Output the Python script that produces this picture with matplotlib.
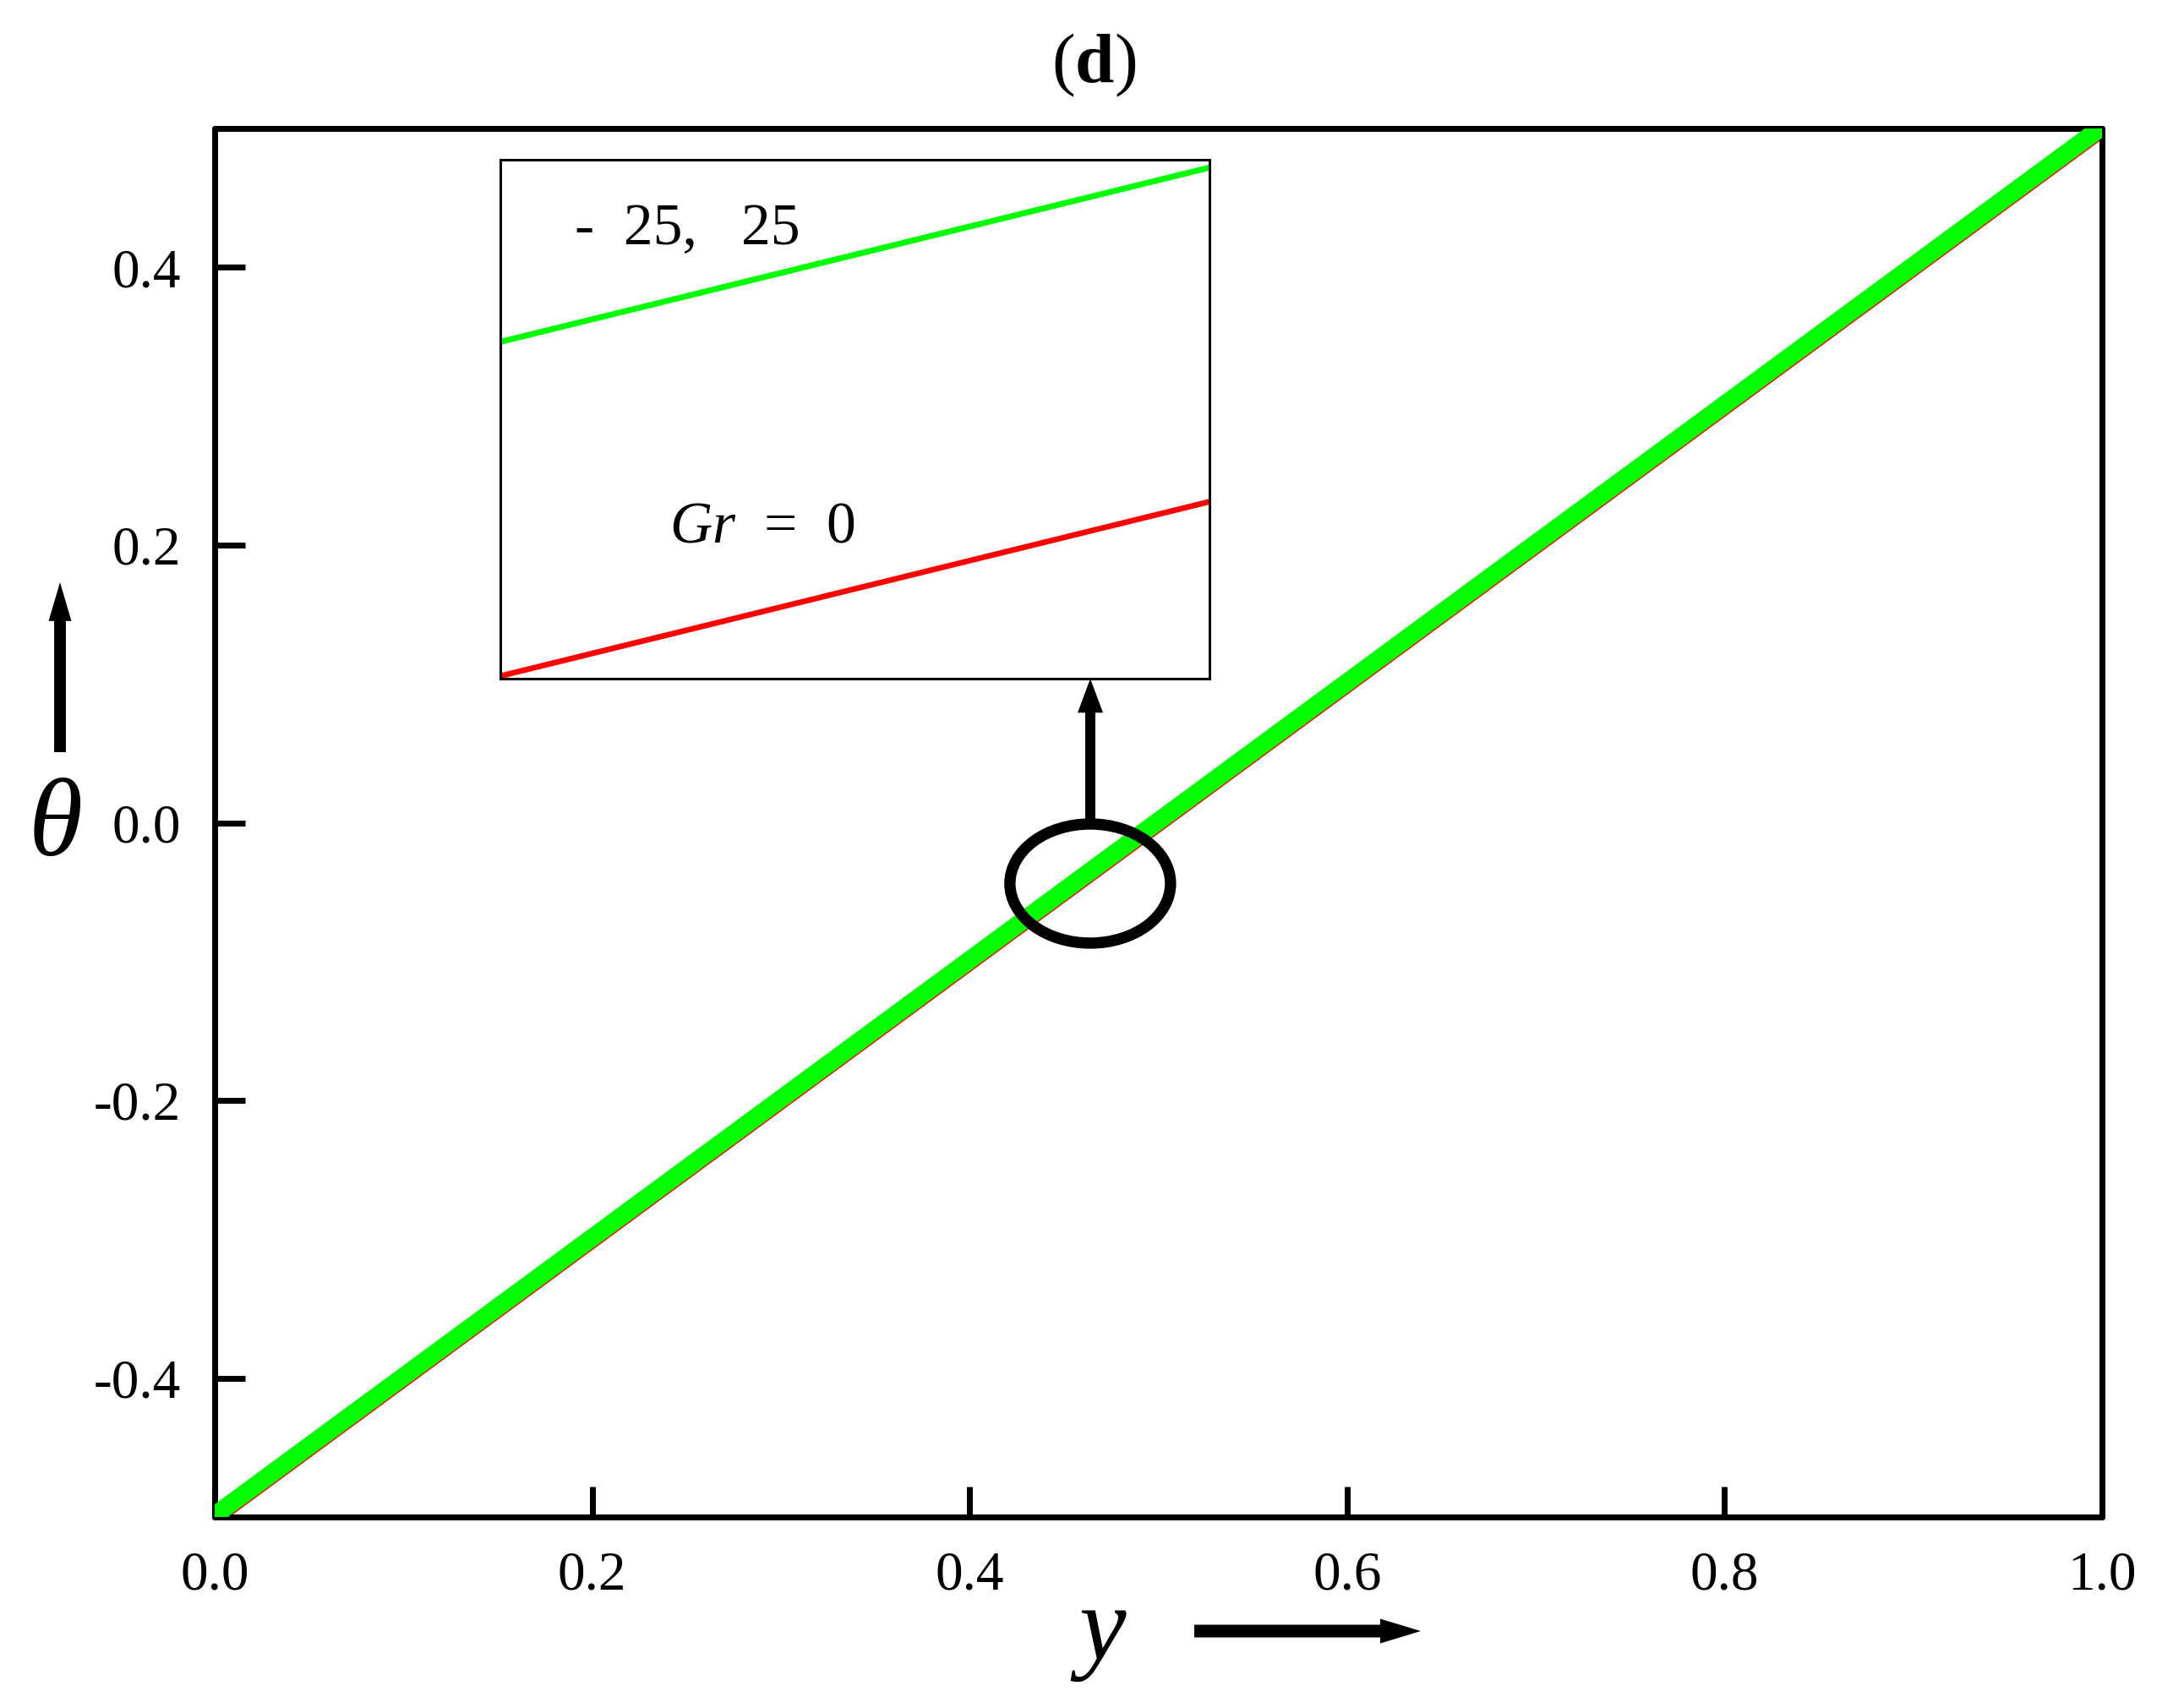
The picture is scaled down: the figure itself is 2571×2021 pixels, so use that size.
import matplotlib
matplotlib.use('Agg')
import matplotlib.pyplot as plt
from matplotlib.patches import Ellipse

plt.rcParams['font.family'] = ['Liberation Serif', 'DejaVu Serif']
plt.rcParams['mathtext.fontset'] = 'custom'
plt.rcParams['mathtext.rm'] = 'Liberation Serif'
plt.rcParams['mathtext.it'] = 'Liberation Serif:italic'
plt.rcParams['mathtext.bf'] = 'Liberation Serif:bold'

# ---- data ----
y_vals = [0.0, 0.1, 0.2, 0.3, 0.4, 0.5, 0.6, 0.7, 0.8, 0.9, 1.0]
theta_gr0 = [-0.5, -0.4, -0.3, -0.2, -0.1, 0.0, 0.1, 0.2, 0.3, 0.4, 0.5]
theta_grm25 = [-0.49885, -0.39885, -0.29885, -0.19885, -0.09885, 0.00115,
               0.10115, 0.20115, 0.30115, 0.40115, 0.50115]
theta_gr25 = [-0.49885, -0.39885, -0.29885, -0.19885, -0.09885, 0.00115,
              0.10115, 0.20115, 0.30115, 0.40115, 0.50115]
x_ticks = [0.0, 0.2, 0.4, 0.6, 0.8, 1.0]
x_ticklabels = ['0.0', '0.2', '0.4', '0.6', '0.8', '1.0']
y_ticks = [-0.4, -0.2, 0.0, 0.2, 0.4]
y_ticklabels = ['-0.4', '-0.2', '0.0', '0.2', '0.4']
zoom_center = (0.4639, -0.0438)

W, H = 2571, 2021
fig = plt.figure(figsize=(W / 100, H / 100), dpi=100)


def fx(px):
    return px / W


def fy(py):
    return 1 - py / H


ax = fig.add_axes([fx(254), fy(1795), (2487 - 254) / W, (1795 - 152) / H])
ax.plot(y_vals, theta_gr0, color='#FF0000', lw=15, solid_capstyle='round', zorder=2)
ax.plot(y_vals, theta_grm25, color='#00FF00', lw=15, solid_capstyle='round', zorder=3)
ax.plot(y_vals, theta_gr25, color='#00FF00', lw=15, solid_capstyle='round', zorder=3)
ax.set_xlim(0, 1)
ax.set_ylim(-0.5, 0.5)
ax.set_xticks(x_ticks)
ax.set_xticklabels(x_ticklabels)
ax.set_yticks(y_ticks)
ax.set_yticklabels(y_ticklabels)
ax.tick_params(direction='in', length=26, width=5, labelsize=47, pad=29)
for s in ax.spines.values():
    s.set_linewidth(5)
    s.set_capstyle('round')

# zoom ellipse
ax.add_patch(Ellipse(zoom_center, 0.0851, 0.0858, fill=False, lw=9.6,
                     edgecolor='k', zorder=5))

# inset
axins = fig.add_axes([fx(592), fy(803), (1431 - 592) / W, (803 - 189) / H])
axins.plot(y_vals, theta_gr0, color='#FF0000', lw=4.8)
axins.plot(y_vals, theta_grm25, color='#00FF00', lw=4.8)
axins.plot(y_vals, theta_gr25, color='#00FF00', lw=4.8)
axins.set_xlim(0.463, 0.4636)
axins.set_ylim(-0.037009, -0.035223)
axins.set_xticks([])
axins.set_yticks([])
for s in axins.spines.values():
    s.set_linewidth(2.2)
axins.text(0.105, 0.865, '-  25,   25', transform=axins.transAxes, fontsize=50,
           ha='left', va='center')
axins.text(0.238, 0.29, '$Gr$  =  0', transform=axins.transAxes, fontsize=50,
           ha='left', va='center')

# arrows
def farrow(tail, tip, tw, hw, hl):
    fig.add_artist(matplotlib.patches.FancyArrowPatch(
        (fx(tail[0]), fy(tail[1])), (fx(tip[0]), fy(tip[1])),
        transform=fig.transFigure,
        arrowstyle=f'simple,head_length={hl},head_width={hw},tail_width={tw}',
        mutation_scale=1, lw=0, color='k', shrinkA=0, shrinkB=0, zorder=6))

farrow((1290, 974), (1290, 803), 8.6, 21.6, 29)
farrow((71, 890), (71, 689), 10, 19.4, 33)
farrow((1413, 1930), (1681, 1930), 10.8, 21, 34.6)

# labels
fig.text(fx(1294), fy(77), '($\\mathbf{d}$)', fontsize=60, ha='center', va='center')
fig.text(fx(66), fy(980), 'θ', fontstyle='italic', fontsize=94, ha='center', va='center')
fig.text(fx(1304), fy(1933), 'y', fontstyle='italic', fontsize=90, ha='center', va='center')

fig.savefig('out.png', dpi=100, facecolor='white')
